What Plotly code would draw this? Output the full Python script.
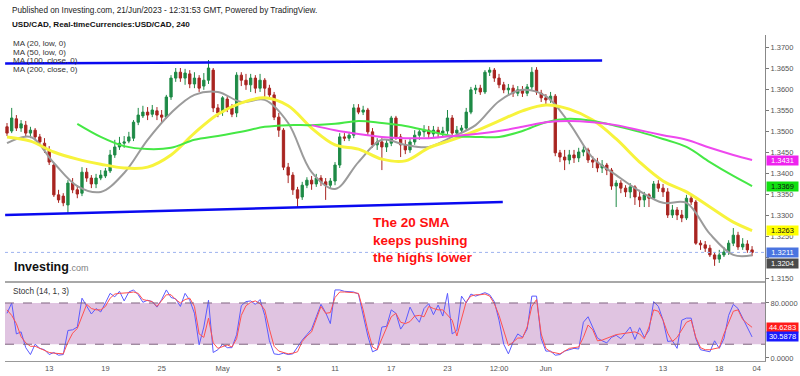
import plotly.graph_objects as go

# ---------------- data ----------------
opens = [1.3510,1.3500,1.3529,1.3507,1.3514,1.3495,1.3502,1.3486,1.3471,1.3455,
         1.3419,1.3348,1.3345,1.3324,1.3376,1.3360,1.3352,1.3402,1.3388,1.3374,
         1.3388,1.3393,1.3405,1.3443,1.3462,1.3471,1.3476,1.3483,1.3521,1.3536,
         1.3545,1.3540,1.3548,1.3538,1.3533,1.3581,1.3626,1.3640,1.3626,1.3636,
         1.3612,1.3626,1.3607,1.3621,1.3645,1.3555,1.3545,1.3576,1.3555,1.3543,
         1.3633,1.3621,1.3610,1.3626,1.3602,1.3621,1.3602,1.3586,1.3533,1.3502,
         1.3414,1.3395,1.3360,1.3343,1.3371,1.3383,1.3374,1.3388,1.3379,1.3371,
         1.3381,1.3419,1.3486,1.3483,1.3490,1.3555,1.3545,1.3550,1.3498,1.3467,
         1.3474,1.3462,1.3471,1.3531,1.3486,1.3467,1.3455,1.3474,1.3490,1.3498,
         1.3502,1.3493,1.3502,1.3495,1.3500,1.3531,1.3495,1.3502,1.3507,1.3545,
         1.3598,1.3602,1.3593,1.3640,1.3645,1.3626,1.3610,1.3598,1.3602,1.3590,
         1.3598,1.3590,1.3605,1.3645,1.3590,1.3579,1.3574,1.3583,1.3448,1.3438,
         1.3431,1.3443,1.3436,1.3450,1.3455,1.3431,1.3426,1.3412,1.3419,1.3407,
         1.3369,1.3376,1.3364,1.3355,1.3367,1.3343,1.3336,1.3348,1.3340,1.3374,
         1.3364,1.3355,1.3300,1.3312,1.3300,1.3293,1.3340,1.3331,1.3233,1.3229,
         1.3221,1.3205,1.3195,1.3205,1.3212,1.3233,1.3252,1.3224,1.3231,1.3217]
highs = [1.3519,1.3555,1.3538,1.3526,1.3524,1.3510,1.3507,1.3493,1.3483,1.3464,
         1.3424,1.3360,1.3352,1.3383,1.3388,1.3371,1.3414,1.3412,1.3395,1.3398,
         1.3407,1.3412,1.3455,1.3479,1.3486,1.3488,1.3498,1.3526,1.3555,1.3560,
         1.3557,1.3562,1.3557,1.3550,1.3586,1.3633,1.3650,1.3650,1.3648,1.3645,
         1.3640,1.3633,1.3638,1.3669,1.3650,1.3564,1.3583,1.3583,1.3564,1.3640,
         1.3640,1.3636,1.3636,1.3633,1.3636,1.3626,1.3610,1.3593,1.3543,1.3507,
         1.3424,1.3402,1.3367,1.3379,1.3390,1.3393,1.3398,1.3395,1.3388,1.3388,
         1.3426,1.3495,1.3495,1.3498,1.3564,1.3564,1.3560,1.3555,1.3507,1.3483,
         1.3483,1.3481,1.3536,1.3536,1.3493,1.3479,1.3483,1.3502,1.3507,1.3514,
         1.3512,1.3512,1.3510,1.3510,1.3550,1.3538,1.3512,1.3514,1.3555,1.3605,
         1.3610,1.3610,1.3645,1.3652,1.3650,1.3636,1.3617,1.3612,1.3610,1.3607,
         1.3607,1.3612,1.3652,1.3652,1.3598,1.3588,1.3593,1.3588,1.3455,1.3455,
         1.3455,1.3455,1.3460,1.3464,1.3460,1.3440,1.3436,1.3431,1.3424,1.3412,
         1.3383,1.3383,1.3371,1.3376,1.3371,1.3360,1.3355,1.3352,1.3381,1.3383,
         1.3374,1.3364,1.3324,1.3319,1.3312,1.3348,1.3348,1.3336,1.3240,1.3238,
         1.3229,1.3212,1.3217,1.3224,1.3240,1.3269,1.3260,1.3245,1.3240,1.3226]
lows = [1.3488,1.3495,1.3500,1.3498,1.3488,1.3483,1.3479,1.3467,1.3448,1.3419,
        1.3343,1.3329,1.3321,1.3305,1.3352,1.3340,1.3345,1.3379,1.3364,1.3364,
        1.3383,1.3388,1.3400,1.3436,1.3455,1.3460,1.3471,1.3476,1.3514,1.3531,
        1.3526,1.3533,1.3526,1.3521,1.3529,1.3574,1.3617,1.3617,1.3610,1.3602,
        1.3602,1.3593,1.3598,1.3612,1.3545,1.3533,1.3536,1.3545,1.3533,1.3533,
        1.3607,1.3598,1.3593,1.3590,1.3593,1.3581,1.3579,1.3526,1.3486,1.3407,
        1.3376,1.3348,1.3319,1.3336,1.3364,1.3360,1.3367,1.3369,1.3336,1.3364,
        1.3371,1.3412,1.3476,1.3476,1.3483,1.3540,1.3538,1.3490,1.3460,1.3455,
        1.3407,1.3450,1.3464,1.3479,1.3438,1.3445,1.3448,1.3467,1.3479,1.3486,
        1.3483,1.3486,1.3483,1.3486,1.3493,1.3490,1.3490,1.3495,1.3500,1.3540,
        1.3588,1.3586,1.3588,1.3631,1.3617,1.3602,1.3590,1.3586,1.3581,1.3583,
        1.3581,1.3583,1.3598,1.3586,1.3569,1.3564,1.3567,1.3440,1.3426,1.3407,
        1.3421,1.3424,1.3426,1.3440,1.3424,1.3412,1.3402,1.3400,1.3395,1.3360,
        1.3319,1.3352,1.3343,1.3340,1.3324,1.3319,1.3319,1.3319,1.3336,1.3355,
        1.3343,1.3293,1.3293,1.3288,1.3283,1.3288,1.3324,1.3229,1.3217,1.3212,
        1.3200,1.3179,1.3186,1.3200,1.3205,1.3226,1.3217,1.3217,1.3210,1.3202]
closes = [1.3495,1.3531,1.3507,1.3517,1.3495,1.3502,1.3486,1.3474,1.3455,1.3426,
          1.3348,1.3336,1.3329,1.3376,1.3360,1.3350,1.3402,1.3388,1.3374,1.3388,
          1.3395,1.3405,1.3443,1.3462,1.3471,1.3474,1.3486,1.3521,1.3538,1.3545,
          1.3538,1.3550,1.3538,1.3533,1.3581,1.3626,1.3640,1.3626,1.3638,1.3612,
          1.3626,1.3602,1.3621,1.3650,1.3555,1.3543,1.3579,1.3555,1.3540,1.3633,
          1.3621,1.3610,1.3626,1.3602,1.3621,1.3602,1.3586,1.3533,1.3502,1.3414,
          1.3395,1.3360,1.3340,1.3371,1.3383,1.3374,1.3388,1.3379,1.3371,1.3381,
          1.3419,1.3486,1.3483,1.3490,1.3555,1.3545,1.3550,1.3498,1.3467,1.3474,
          1.3462,1.3471,1.3531,1.3486,1.3467,1.3455,1.3474,1.3490,1.3498,1.3502,
          1.3493,1.3502,1.3495,1.3500,1.3531,1.3495,1.3502,1.3507,1.3545,1.3598,
          1.3602,1.3593,1.3640,1.3645,1.3626,1.3610,1.3598,1.3602,1.3590,1.3598,
          1.3590,1.3605,1.3640,1.3593,1.3579,1.3574,1.3583,1.3448,1.3438,1.3431,
          1.3443,1.3436,1.3450,1.3455,1.3431,1.3426,1.3412,1.3419,1.3407,1.3369,
          1.3376,1.3364,1.3355,1.3367,1.3343,1.3336,1.3348,1.3340,1.3374,1.3364,
          1.3355,1.3300,1.3312,1.3300,1.3293,1.3340,1.3331,1.3233,1.3229,1.3221,
          1.3205,1.3195,1.3205,1.3212,1.3233,1.3252,1.3224,1.3231,1.3217,1.3211]
bars = list(range(len(closes)))

ma_bars = [0,5,10,15,20,25,30,35,40,45,50,55,60,65,70,75,80,85,90,95,
           100,105,110,115,120,125,130,135,140,145,150,155,159]
ma20 = [1.3471,1.3486,1.3424,1.3369,1.3355,1.3400,1.3479,1.3543,1.3586,1.3593,
        1.3569,1.3574,1.3519,1.3402,1.3362,1.3426,1.3479,1.3467,1.3462,1.3486,
        1.3514,1.3571,1.3598,1.3583,1.3519,1.3436,1.3395,1.3357,1.3329,1.3329,
        1.3255,1.3205,1.3204]
ma50 = [1.3486,1.3476,1.3450,1.3433,1.3421,1.3412,1.3414,1.3443,1.3495,1.3540,
        1.3567,1.3579,1.3560,1.3507,1.3467,1.3457,1.3433,1.3429,1.3460,1.3479,
        1.3500,1.3524,1.3548,1.3562,1.3552,1.3526,1.3481,1.3426,1.3381,1.3355,
        1.3319,1.3283,1.3263]
ma100_bars = [15,20,25,30,35,40,45,50,55,60,65,70,75,80,85,90,95,
              100,105,110,115,120,125,130,135,140,145,150,155,159]
ma100 = [1.3517,1.3486,1.3464,1.3457,1.3460,1.3479,1.3488,1.3498,1.3510,1.3514,
         1.3514,1.3517,1.3524,1.3519,1.3512,1.3500,1.3488,1.3486,1.3486,1.3500,
         1.3521,1.3529,1.3524,1.3512,1.3498,1.3481,1.3462,1.3426,1.3393,1.3369]
ma200_bars = [65,70,75,80,85,90,95,100,105,110,115,120,125,130,135,140,145,150,155,159]
ma200 = [1.3514,1.3502,1.3493,1.3486,1.3483,1.3483,1.3488,1.3493,1.3500,1.3510,
         1.3521,1.3524,1.3521,1.3514,1.3502,1.3490,1.3479,1.3460,1.3443,1.3431]

stoch_k = [65,80,35,38,15,5,20,14,12,5, 8,4,5,40,41,45,87,76,64,72,
           67,80,94,89,97,83,96,99,92,81, 84,82,74,85,99,88,86,75,94,84,
           65,19,45,84,8,12,20,15,15,34, 76,82,83,78,85,62,25,6,5,7,
           5,6,17,26,34,42,60,78,66,50, 99,99,97,96,96,93,60,32,9,12,
           45,46,70,65,42,52,74,61,52,72, 79,63,77,61,94,35,40,90,80,93,
           90,92,95,92,82,55,20,6,23,35, 30,42,90,90,28,10,10,4,5,10,
           12,14,13,52,60,45,29,25,22,30, 33,28,36,45,27,44,30,40,82,75,
           55,24,25,14,55,58,58,28,12,10, 9,25,14,28,62,78,72,58,43,30.5878]
stoch_d = [70,62,50,31,22,17,17,14,11,8, 7,6,6,23,36,43,60,78,72,70,
           70,75,87,93,94,94,95,96,94,85, 84,82,75,84,92,92,85,80,85,87,
           75,35,30,58,22,14,17,19,16,28, 62,76,81,83,79,70,42,17,10,8,
           6,7,9,24,32,38,57,75,65,66, 88,96,96,96,95,94,70,40,16,12,
           28,42,60,65,52,50,53,61,62,60, 75,72,70,70,63,55,32,58,82,90,
           92,92,93,90,79,62,38,18,23,29, 29,45,75,85,35,14,9,7,6,10,
           14,15,16,30,48,41,25,26,29,31, 34,35,36,37,38,35,28,45,70,68,
           55,36,24,30,41,52,55,30,15,12, 12,13,15,35,53,68,70,56,50,44.6283]

resistance_bars = [-0.4, 127.0]
resistance_prices = [1.3661, 1.3668]
support_bars = [-0.4, 105.8]
support_prices = [1.3300, 1.3331]

x_tick_bars = [9, 21, 33, 46, 58, 70, 82, 94, 105, 115, 128, 140, 152, 160]
x_tick_labels = ['13', '19', '25', 'May', '5', '11', '17', '23', '12:00', 'Jun', '7', '13', '18', '04']
price_ticks = [1.315, 1.320, 1.325, 1.330, 1.335, 1.340, 1.345, 1.350, 1.355, 1.360, 1.365, 1.370]
price_tick_labels = ['1.3150', '', '1.3250', '1.3300', '1.3350', '1.3400', '1.3450', '1.3500',
                     '1.3550', '1.3600', '1.3650', '1.3700']
stoch_ticks = [0, 80]
stoch_tick_labels = ['0.0000', '80.0000']
stoch_bands = [20, 80]

ma_names = ['MA (20, low, 0)', 'MA (50, low, 0)', 'MA (100, close, 0)', 'MA (200, close, 0)']

# ---------------- layout helpers ----------------
W, H = 800, 376
ML, MR, MT, MB = 5, 35, 35, 15
PW, PH = W - ML - MR, H - MT - MB
FONT = 'Arial, Liberation Sans, sans-serif'


def px(x):
    return (x - ML) / PW


def py(y):
    return (H - MB - y) / PH


split = py(281)

C_UP, C_DN = '#1e8a46', '#a82420'
C_MA20, C_MA50, C_MA100, C_MA200 = '#9b9b9b', '#f7f33c', '#45e845', '#ee48ee'

fig = go.Figure()
fig.add_trace(go.Candlestick(
    x=bars, open=opens, high=highs, low=lows, close=closes, xaxis='x', yaxis='y',
    increasing=dict(line=dict(color=C_UP, width=1), fillcolor=C_UP),
    decreasing=dict(line=dict(color=C_DN, width=1), fillcolor=C_DN),
    whiskerwidth=0, hoverinfo='skip', showlegend=False))

for xs, ys, col, w in [(ma_bars, ma20, C_MA20, 2), (ma_bars, ma50, C_MA50, 3),
                       (ma100_bars, ma100, C_MA100, 2), (ma200_bars, ma200, C_MA200, 2)]:
    fig.add_trace(go.Scatter(x=xs, y=ys, mode='lines', xaxis='x', yaxis='y',
                             line=dict(color=col, width=w, shape='spline', smoothing=1.0),
                             hoverinfo='skip', showlegend=False))

for xs, ys in [(resistance_bars, resistance_prices), (support_bars, support_prices)]:
    fig.add_trace(go.Scatter(x=xs, y=ys, mode='lines', xaxis='x', yaxis='y',
                             line=dict(color='#0a0af0', width=2.5),
                             hoverinfo='skip', showlegend=False))

fig.add_trace(go.Scatter(x=bars, y=stoch_k, mode='lines', xaxis='x2', yaxis='y2',
                         line=dict(color='#5b5bff', width=1), hoverinfo='skip', showlegend=False))
fig.add_trace(go.Scatter(x=bars, y=stoch_d, mode='lines', xaxis='x2', yaxis='y2',
                         line=dict(color='#ff5050', width=1), hoverinfo='skip', showlegend=False))

shapes = [
    dict(type='rect', xref='paper', yref='y2', x0=0, x1=1, y0=stoch_bands[0], y1=stoch_bands[1],
         fillcolor='#e0c4e1', line=dict(width=0), layer='below'),
    dict(type='line', xref='paper', yref='y', x0=0, x1=1, y0=closes[-1], y1=closes[-1],
         line=dict(color='#9db2ef', width=1, dash='dot')),
]
for b in stoch_bands:
    shapes.append(dict(type='line', xref='paper', yref='y2', x0=0, x1=1, y0=b, y1=b,
                       line=dict(color='#806480', width=1, dash='dash')))

ann = []
ann.append(dict(text='Published on Investing.com, 21/Jun/2023 - 12:31:53 GMT, Powered by TradingView.',
                x=px(10), y=py(10), font=dict(size=8.2, color='#222')))
ann.append(dict(text='<b>USD/CAD, Real-timeCurrencies:USD/CAD, 240</b>',
                x=px(10), y=py(25), font=dict(size=8.1, color='#111')))
for name, yy in zip(ma_names, [44, 52.5, 61, 69.5]):
    ann.append(dict(text=name, x=px(11), y=py(yy), font=dict(size=8, color='#333')))
ann.append(dict(text="<b>Investing</b><span style='font-size:9px;color:#808080'>.com</span>",
                x=px(12), y=py(267), font=dict(size=12.5, color='#111')))
ann.append(dict(text='Stoch (14, 1, 3)', x=px(11), y=py(291), font=dict(size=8.2, color='#333')))
ann.append(dict(text='<b>The 20 SMA<br>keeps pushing<br>the highs lower</b>', x=px(371), y=py(240),
                align='left', font=dict(size=13.5, color='#ff1010')))
for a in ann:
    a.update(xref='paper', yref='paper', xanchor='left', yanchor='middle', showarrow=False)
    a['font']['family'] = FONT

labels = [
    (ma200[-1], 'y', '#ee22ee', 'white', 0),
    (ma100[-1], 'y', '#10e010', '#111', 0),
    (ma50[-1], 'y', '#ffff00', '#111', 0),
    (closes[-1], 'y', '#4a74e0', 'white', 0),
    (ma20[-1], 'y', '#4a4a4a', 'white', -8),
    (stoch_d[-1], 'y2', '#ff1a1a', 'white', 0),
    (stoch_k[-1], 'y2', '#1a1aff', 'white', 0),
]
for v, yr, bg, fc, ys in labels:
    ann.append(dict(text=f'{v:.4f}', xref='paper', yref=yr, x=1, y=v, xanchor='left', yanchor='middle',
                    xshift=1, yshift=ys, showarrow=False, bgcolor=bg, width=31, height=9, borderpad=0,
                    align='center', font=dict(size=7.5, color=fc, family=FONT)))

axis_common = dict(showgrid=False, zeroline=False)
fig.update_layout(
    width=W, height=H, margin=dict(l=ML, r=MR, t=MT, b=MB, autoexpand=False),
    paper_bgcolor='white', plot_bgcolor='white', showlegend=False,
    font=dict(family=FONT, size=8, color='#555'),
    xaxis=dict(domain=[0, 1], anchor='y', range=[-0.43, 161.76], rangeslider=dict(visible=False),
               showticklabels=False, ticks='', showline=True, linecolor='#a8a8a8', linewidth=2,
               **axis_common),
    xaxis2=dict(domain=[0, 1], anchor='y2', matches='x', range=[-0.43, 161.76],
                tickmode='array', tickvals=x_tick_bars, ticktext=x_tick_labels, ticks='',
                tickfont=dict(size=7.5, color='#555'), showline=True, linecolor='#999', linewidth=1,
                **axis_common),
    yaxis=dict(domain=[split, 1], anchor='x', side='right', range=[1.31429, 1.37286],
               tickmode='array', tickvals=price_ticks, ticktext=price_tick_labels,
               ticks='outside', ticklen=3, tickcolor='#777', showline=True, linecolor='#888',
               linewidth=1, tickfont=dict(size=7.5, color='#555'), **axis_common),
    yaxis2=dict(domain=[0, split], anchor='x2', side='right', range=[-4.4, 112],
                tickmode='array', tickvals=stoch_ticks, ticktext=stoch_tick_labels,
                ticks='outside', ticklen=3, tickcolor='#777', showline=True, linecolor='#888',
                linewidth=1, tickfont=dict(size=7.5, color='#555'), **axis_common),
    shapes=shapes, annotations=ann,
)

fig.write_html('out.html', config={'displayModeBar': False},
               post_script="document.body.style.margin='0px';")
